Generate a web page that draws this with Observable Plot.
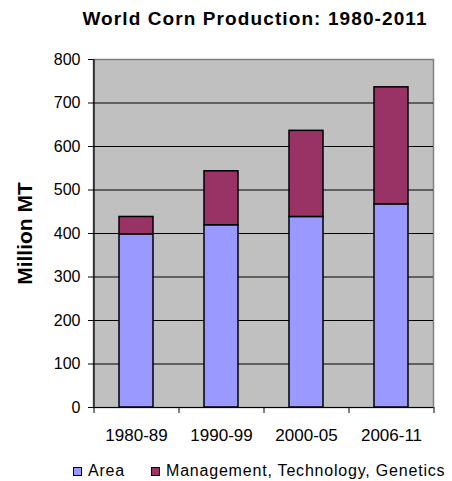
<!DOCTYPE html>
<html><head><meta charset="utf-8">
<script src="https://cdn.jsdelivr.net/npm/d3@7"></script>
<script src="https://cdn.jsdelivr.net/npm/@observablehq/plot@0.6"></script>
<style>
body{margin:0;background:#fff;font-family:"Liberation Sans",Arial,sans-serif;color:#000;}
#wrap{position:relative;width:452px;height:481px;overflow:hidden;}
#title{position:absolute;left:0;top:8px;width:452px;padding-left:58px;box-sizing:border-box;text-align:center;font-weight:bold;font-size:19px;letter-spacing:1.1px;white-space:nowrap;}
#chart{position:absolute;left:0;top:40px;}
.sw{position:absolute;width:7px;height:7px;border:1px solid #000;top:467px;}
.lt{position:absolute;top:462px;font-size:16px;letter-spacing:0.8px;white-space:nowrap;}
</style>
</head><body>
<div id="wrap">
  <div id="title"></div>
  <div id="chart"></div>
  <div id="legend"></div>
</div>
<script>
const titleText = "World Corn Production: 1980-2011";
const yLabel = "Million MT";
const periods = ["1980-89", "1990-99", "2000-05", "2006-11"];
const seriesNames = ["Area", "Management, Technology, Genetics"];
const seriesColors = ["#9999FF", "#993366"];
const area = [398, 419, 438, 467];
const mgmt = [40, 124, 198, 269];
const yTicks = [0, 100, 200, 300, 400, 500, 600, 700, 800];

const data = [
  ...periods.map((p, i) => ({period: p, series: seriesNames[0], value: area[i]})),
  ...periods.map((p, i) => ({period: p, series: seriesNames[1], value: mgmt[i]}))
];

const W = 452, H = 410, mL = 93, mR = 19, mT = 19, mB = 43;
const step = (W - mL - mR) / periods.length;

document.getElementById("title").textContent = titleText;

const chart = Plot.plot({
  width: W, height: H,
  marginLeft: mL, marginRight: mR, marginTop: mT, marginBottom: mB,
  style: {fontFamily: '"Liberation Sans", Arial, sans-serif', fontSize: "16px", color: "black", background: "transparent", overflow: "visible"},
  x: {domain: periods, paddingInner: 0.6, paddingOuter: 0.3, label: null},
  y: {domain: [0, 800], label: null},
  color: {domain: seriesNames, range: seriesColors},
  marks: [
    Plot.frame({fill: "#C0C0C0", stroke: "#808080", strokeWidth: 1.5}),
    Plot.ruleY(yTicks.filter(d => d < 800), {stroke: "black", strokeWidth: 1}),
    Plot.barY(data, {x: "period", y: "value", fill: "series", stroke: "black", strokeWidth: 1.5}),
    Plot.ruleX([periods[0]], {dx: -step / 2, y1: 0, y2: 800, stroke: "black", strokeWidth: 1.2}),
    Plot.axisY({ticks: yTicks, tickSize: 5, tickPadding: 8, label: null, tickFormat: d => String(d), fill: "black"}),
    Plot.axisX({tickSize: 0, tickPadding: 21, label: null, fill: "black", fontSize: 17, letterSpacing: 0.5}),
    Plot.axisX({tickSize: 6, tickFormat: () => "", dx: -step / 2, label: null}),
    Plot.axisX({ticks: [periods[periods.length - 1]], tickSize: 6, tickFormat: () => "", dx: step / 2, label: null}),
    Plot.text([yLabel], {frameAnchor: "left", textAnchor: "middle", lineAnchor: "middle", rotate: -90, dx: -68, fontSize: 21, fontWeight: "bold", fill: "black"})
  ]
});
document.getElementById("chart").appendChild(chart);

const legend = document.getElementById("legend");
const swX = [73, 151], txX = [88, 166];
seriesNames.forEach((name, i) => {
  const sw = document.createElement("div");
  sw.className = "sw";
  sw.style.left = swX[i] + "px";
  sw.style.background = seriesColors[i];
  legend.appendChild(sw);
  const t = document.createElement("div");
  t.className = "lt";
  t.style.left = txX[i] + "px";
  t.textContent = name;
  legend.appendChild(t);
});
</script>
</body></html>
